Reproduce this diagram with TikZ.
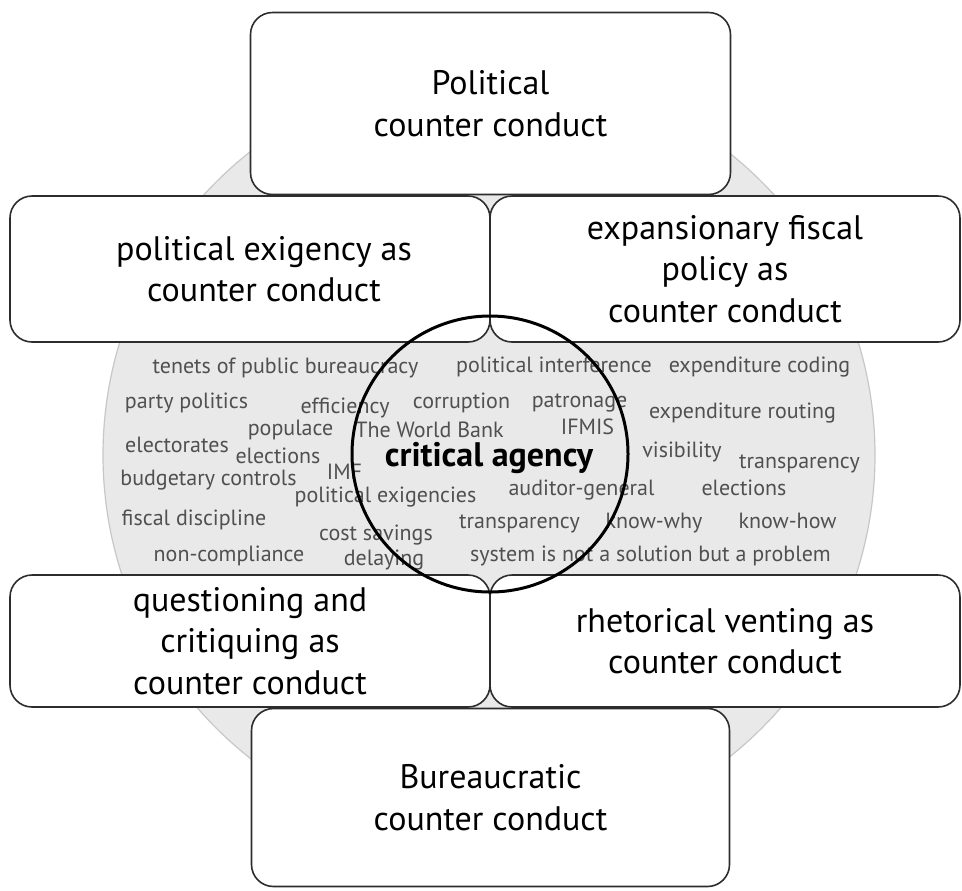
\documentclass[tikz,border=0pt]{standalone}
\usepackage{fontspec}
\setmainfont{PT Sans}
\usepackage{xcolor}
\usepackage{tikz}
\usetikzlibrary{positioning}
\definecolor{wordgray}{RGB}{80,80,80}
\definecolor{discgray}{RGB}{233,233,233}
\definecolor{edgegray}{RGB}{45,45,45}

\tikzset{
  ccbox/.style={draw=edgegray,line width=0.8pt,fill=white,rounded corners=11pt,
    align=center,inner sep=0pt,outer sep=0pt,font=\fontsize{17}{20.7}\selectfont},
  word/.style={text=wordgray,anchor=base,inner sep=0pt,font=\fontsize{11}{13}\selectfont},
}

\begin{document}
\begin{tikzpicture}[x=0.5pt,y=-0.5pt]
    \useasboundingbox (0,0) rectangle (962,890);
    \coordinate (hub) at (490,454);
    \draw[fill=discgray,draw=black!22,line width=0.6pt] (489,455) circle[radius=386];
    \node[ccbox,minimum width=240pt,minimum height=91pt] (political) at (490.5,103.5)
      {Political\\counter conduct};
    \node[ccbox,minimum width=239pt,minimum height=89pt] (bureau) at (490.5,797.5)
      {Bureaucratic\\counter conduct};
    \node[ccbox,minimum width=240pt,minimum height=73pt] (exigency) at (250,269)
      {\hspace*{14pt}political exigency as\\\hspace*{14pt}counter conduct};
    \node[ccbox,minimum width=235pt,minimum height=73pt] (fiscal) at (725,269)
      {expansionary fiscal\\policy as\\counter conduct};
    \node[ccbox,minimum width=240pt,minimum height=66pt] (critique) at (250,641)
      {questioning and\\critiquing as\\counter conduct};
    \node[ccbox,minimum width=235pt,minimum height=66pt] (venting) at (725,641)
      {rhetorical venting as\\counter conduct};
    \foreach \w/\x/\y [count=\i] in {
      tenets of public bureaucracy/285.5/373, political interference/554/372,
      expenditure coding/759.5/372, party politics/186.5/408, efficiency/345/413,
      corruption/461.5/408, patronage/579.5/407, expenditure routing/742.5/418,
      populace/290.5/435, The World Bank/429.5/437, IFMIS/587.5/434,
      electorates/177/452, elections/278/463, visibility/682/457,
      transparency/799.5/468, budgetary controls/208.5/485, IMF/344.5/479,
      political exigencies/385.5/502, auditor-general/581.5/495, elections/744/495,
      fiscal discipline/194/525, transparency/519.5/528, know-why/654/528,
      know-how/787.5/528, cost savings/376/540, non-compliance/229/561,
      delaying/384/565, system is not a solution but a problem/650.5/561}
      \node[word] (w\i) at (\x,\y) {\w};
    \node[anchor=base,inner sep=0pt,font=\fontsize{17}{20}\selectfont\bfseries] (agency)
      at (489,466) {critical agency};
    \draw[line width=1.5pt] (hub) circle[radius=138];
  \end{tikzpicture}
\end{document}
